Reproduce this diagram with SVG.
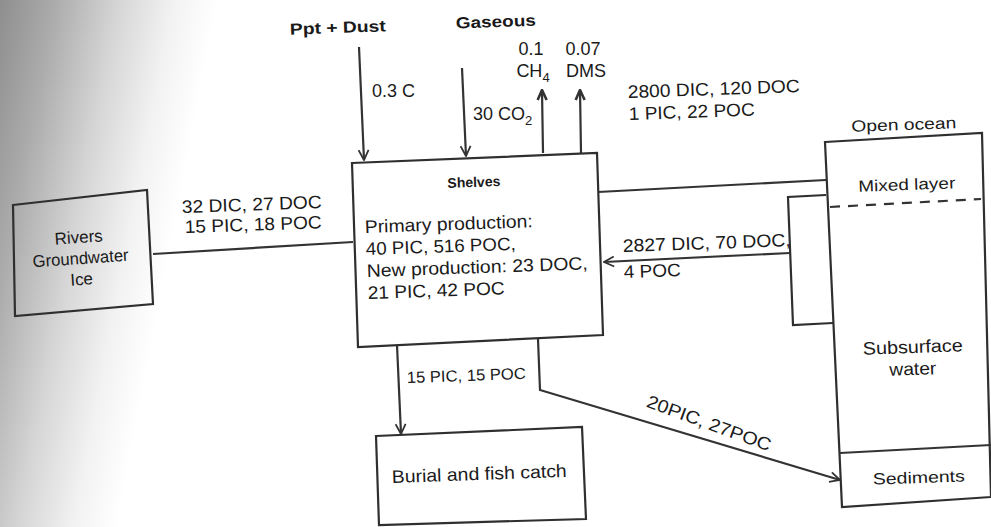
<svg xmlns="http://www.w3.org/2000/svg" width="991" height="527" viewBox="0 0 991 527">
<defs>
<linearGradient id="scan" gradientUnits="userSpaceOnUse" x1="0" y1="0" x2="210" y2="40">
<stop offset="0" stop-color="#8e8e8e"/>
<stop offset="0.25" stop-color="#ababab"/>
<stop offset="0.55" stop-color="#d6d6d6"/>
<stop offset="0.8" stop-color="#f2f2f2"/>
<stop offset="1" stop-color="#ffffff"/>
</linearGradient>
<marker id="arr" viewBox="0 0 12 12" refX="11" refY="6" markerWidth="12" markerHeight="12" markerUnits="userSpaceOnUse" orient="auto">
<path d="M1,1 L11,6 L1,11" fill="none" stroke="#333" stroke-width="1.8"/>
</marker>
<marker id="arrB" viewBox="0 0 12 12" refX="11" refY="6" markerWidth="12" markerHeight="12" markerUnits="userSpaceOnUse" orient="auto">
<path d="M1,1.5 L11,6 L1,10.5" fill="none" stroke="#333" stroke-width="2.6"/>
</marker>
</defs>
<style>
.box{fill:none;stroke:#2f2f2f;stroke-width:2.2;stroke-linejoin:miter}
.ln{fill:none;stroke:#333;stroke-width:2.2}
.t{font-family:"Liberation Sans",Arial,sans-serif;font-size:18px;fill:#1a1a1a}
.s{font-size:16px}
.r{font-size:17px}
.b{font-weight:bold;font-size:16px}
.m{text-anchor:middle}
</style>
<rect x="0" y="0" width="991" height="527" fill="#ffffff"/>
<rect x="0" y="0" width="260" height="527" fill="url(#scan)"/>

<g id="connectors">
<path class="ln" d="M153,254 L353,242"/>
<path class="ln" d="M359,47 L364,160" marker-end="url(#arr)"/>
<path class="ln" d="M462,68 L466,156" marker-end="url(#arr)"/>
<path class="ln" d="M543,153 L542,90" marker-end="url(#arrB)"/>
<path class="ln" d="M581,153 L580,90" marker-end="url(#arrB)"/>
<path class="ln" d="M598,192 L826,180"/>
<path class="ln" d="M790,253 L604,262" marker-end="url(#arr)"/>
<path class="ln" d="M397,345 L401,434" marker-end="url(#arr)"/>
<path class="ln" d="M538,339 L540,390 L840,480" marker-end="url(#arr)"/>
</g>

<g id="labels">
<text class="t b" x="338" y="33" textLength="96" lengthAdjust="spacingAndGlyphs" text-anchor="middle" transform="rotate(-2 338 33)">Ppt + Dust</text>
<text class="t b" x="496" y="27" textLength="80" lengthAdjust="spacingAndGlyphs" text-anchor="middle" transform="rotate(-2 496 27)">Gaseous</text>
<text class="t m" x="531" y="55">0.1</text>
<text class="t m" x="533" y="77">CH<tspan font-size="13" dy="5">4</tspan></text>
<text class="t m" x="583" y="55">0.07</text>
<text class="t m" x="586" y="77">DMS</text>
<text class="t" x="372" y="97">0.3 C</text>
<text class="t" x="473" y="120">30 CO<tspan font-size="13" dy="5">2</tspan></text>
<text class="t" x="628" y="98" textLength="172" lengthAdjust="spacingAndGlyphs" transform="rotate(-2 628 98)">2800 DIC, 120 DOC</text>
<text class="t" x="629" y="120" textLength="126" lengthAdjust="spacingAndGlyphs" transform="rotate(-2 629 120)">1 PIC, 22 POC</text>
<text class="t" x="182" y="213" textLength="140" lengthAdjust="spacingAndGlyphs" transform="rotate(-2 182 213)">32 DIC, 27 DOC</text>
<text class="t" x="185" y="233" textLength="137" lengthAdjust="spacingAndGlyphs" transform="rotate(-2 185 233)">15 PIC, 18 POC</text>
<text class="t" x="623" y="252" textLength="168" lengthAdjust="spacingAndGlyphs" transform="rotate(-2 623 252)">2827 DIC, 70 DOC,</text>
<text class="t" x="624" y="278" textLength="57" lengthAdjust="spacingAndGlyphs" transform="rotate(-2 624 278)">4 POC</text>
<text class="t s" x="407" y="383" textLength="119" lengthAdjust="spacingAndGlyphs" transform="rotate(-2 407 383)">15 PIC, 15 POC</text>
<text class="t m" x="707" y="429" textLength="131" lengthAdjust="spacingAndGlyphs" transform="rotate(20 707 429)">20PIC, 27POC</text>
</g>

<g id="rivers">
<polygon class="box" points="13,205 147,190 153,304 15,316"/>
<text class="t r m" x="79" y="243" transform="rotate(-4 79 243)">Rivers</text>
<text class="t r m" x="81" y="264" textLength="96" lengthAdjust="spacingAndGlyphs" transform="rotate(-4 81 264)">Groundwater</text>
<text class="t r m" x="82" y="285" transform="rotate(-4 82 285)">Ice</text>
</g>

<g id="shelves">
<polygon class="box" points="352,163 597,153 603,335 358,347"/>
<text class="t b m" x="474" y="187" style="font-size:14px" transform="rotate(-2 474 187)">Shelves</text>
<text class="t" x="365" y="233" textLength="168" lengthAdjust="spacingAndGlyphs" transform="rotate(-2 365 233)">Primary production:</text>
<text class="t" x="366" y="255" textLength="150" lengthAdjust="spacingAndGlyphs" transform="rotate(-2 366 255)">40 PIC, 516 POC,</text>
<text class="t" x="367" y="277" textLength="221" lengthAdjust="spacingAndGlyphs" transform="rotate(-2 367 277)">New production: 23 DOC,</text>
<text class="t" x="368" y="299" textLength="137" lengthAdjust="spacingAndGlyphs" transform="rotate(-2 368 299)">21 PIC, 42 POC</text>
</g>

<g id="burial">
<polygon class="box" points="376,436 582,427 586,519 379,525"/>
<text class="t" x="392" y="483" textLength="175" lengthAdjust="spacingAndGlyphs" transform="rotate(-2 392 483)">Burial and fish catch</text>
</g>

<g id="open-ocean">
<text class="t s m" x="904" y="130" textLength="105" lengthAdjust="spacingAndGlyphs" transform="rotate(-2 904 130)">Open ocean</text>
<polygon class="box" points="825,142 982,133 991,497 842,507"/>
<path class="box" d="M826,195 L788,197 L793,325 L833,323"/>
<path class="ln" d="M830,207 L981,199" stroke-dasharray="10,8"/>
<text class="t s m" x="907" y="190" textLength="97" lengthAdjust="spacingAndGlyphs" transform="rotate(-2 907 190)">Mixed layer</text>
<text class="t m" x="913" y="353" textLength="100" lengthAdjust="spacingAndGlyphs" transform="rotate(-2 913 353)">Subsurface</text>
<text class="t m" x="913" y="375" textLength="47" lengthAdjust="spacingAndGlyphs" transform="rotate(-2 913 375)">water</text>
<path class="ln" d="M840,453 L991,445"/>
<text class="t s m" x="919" y="483" textLength="92" lengthAdjust="spacingAndGlyphs" transform="rotate(-2 919 483)">Sediments</text>
</g>
</svg>
